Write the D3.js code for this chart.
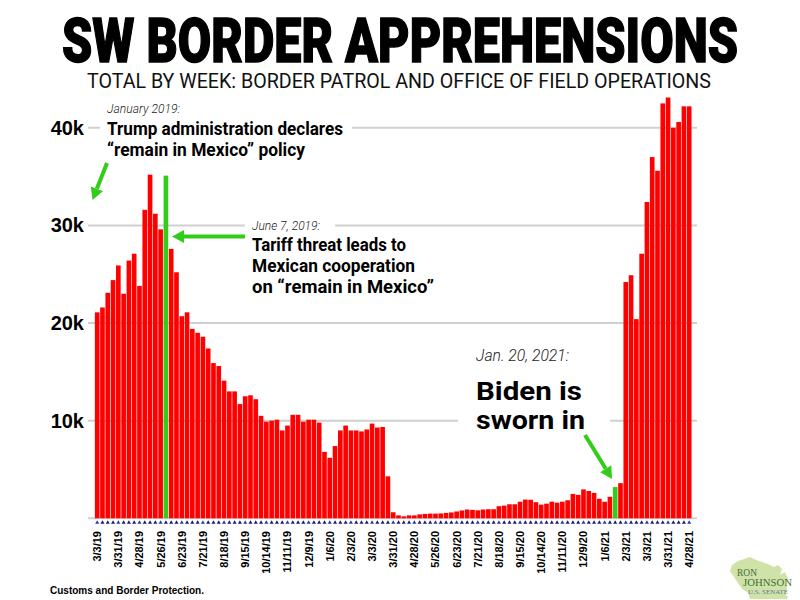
<!DOCTYPE html>
<html><head><meta charset="utf-8">
<script src="https://cdn.jsdelivr.net/npm/d3@7"></script>
<style>body{margin:0;background:#fff}</style>
</head><body>
<svg id="chart" width="800" height="600"></svg>
<script>
// Weekly SW border apprehensions (thousands), week of 3/3/19 through 4/28/21
const weeklyApprehensions = [
  21.1, 21.6, 23.1, 24.4, 25.9, 23.0, 26.4, 27.1, 23.8, 31.6, 35.2, 31.2, 29.6, 35.1, 27.6, 25.2,
  20.7, 21.1, 19.4, 19.0, 18.6, 17.4, 15.9, 15.6, 14.1, 13.0, 13.0, 11.7, 12.5, 12.6, 12.2, 10.5,
  9.9, 10.0, 10.1, 9.0, 9.5, 10.6, 10.6, 9.9, 10.1, 10.1, 9.8, 6.8, 6.2, 7.4, 9.0, 9.5,
  9.0, 9.0, 8.9, 9.1, 9.7, 9.3, 9.35, 4.3, 0.62, 0.3, 0.2, 0.3, 0.3, 0.4, 0.45, 0.48,
  0.48, 0.5, 0.55, 0.6, 0.7, 0.8, 0.9, 0.86, 0.82, 0.9, 0.93, 0.93, 1.24, 1.3, 1.44, 1.44,
  1.7, 1.92, 1.9, 1.65, 1.4, 1.5, 1.7, 1.6, 1.7, 1.85, 2.5, 2.4, 2.96, 2.8, 2.6, 2.0,
  1.7, 2.2, 3.2, 3.6, 24.2, 24.9, 20.4, 27.1, 32.4, 37.0, 35.6, 42.5, 43.1, 40.0, 40.6, 42.2,
  42.2
];
const highlightWeeks = [13, 98];
const tickLabels = ["3/3/19","3/31/19","4/28/19","5/26/19","6/23/19","7/21/19","8/18/19","9/15/19",
  "10/14/19","11/11/19","12/9/19","1/6/20","2/3/20","3/3/20","3/31/20","4/28/20","5/26/20","6/23/20",
  "7/21/20","8/18/20","9/15/20","10/14/20","11/11/20","12/9/20","1/6/21","2/3/21","3/3/21","3/31/21","4/28/21"];
const tickEvery = 4;
const yTickValues = [0, 10, 20, 30, 40];

const svg = d3.select("#chart");
const RED = "#ff0000", GREEN = "#33cc1a";

const x = d3.scaleBand().domain(d3.range(weeklyApprehensions.length))
  .range([94.6, 691.8]).paddingInner(0.12).paddingOuter(0.05);
const y = d3.scaleLinear().domain([0, 40]).range([518.3, 127.8]);

// Title
svg.append("text").attr("x", 400).attr("y", 62).attr("text-anchor", "middle")
  .attr("font-family", "Roboto, 'Liberation Sans', sans-serif").attr("font-weight", 900)
  .attr("font-size", 62).attr("textLength", 676).attr("lengthAdjust", "spacingAndGlyphs")
  .attr("fill", "#000").attr("stroke", "#000").attr("stroke-width", 1.4)
  .text("SW BORDER APPREHENSIONS");
svg.append("text").attr("x", 399).attr("y", 88).attr("text-anchor", "middle")
  .attr("font-family", "Roboto, 'Liberation Sans', sans-serif").attr("font-weight", 400)
  .attr("font-size", 20.5).attr("textLength", 624).attr("lengthAdjust", "spacingAndGlyphs")
  .attr("fill", "#111").text("TOTAL BY WEEK: BORDER PATROL AND OFFICE OF FIELD OPERATIONS");

// Gridlines
const grid = svg.append("g");
grid.selectAll("line").data(yTickValues).join("line")
  .attr("x1", 88).attr("x2", 697).attr("y1", d => y(d)).attr("y2", d => y(d))
  .attr("stroke", "#d0d0d0").attr("stroke-width", 2);

// Y labels
svg.append("g").selectAll("text").data(yTickValues.filter(d => d > 0)).join("text")
  .attr("x", 84).attr("y", d => y(d) + 7).attr("text-anchor", "end")
  .attr("font-family", "'Liberation Sans', Arial, sans-serif").attr("font-weight", 700)
  .attr("font-size", 20).attr("fill", "#000").text(d => d + "k");

const boxLayer = svg.append("g");

// Bars
svg.append("g").selectAll("rect").data(weeklyApprehensions).join("rect")
  .attr("x", (d, i) => x(i)).attr("width", x.bandwidth())
  .attr("y", d => y(d)).attr("height", d => y(0) - y(d))
  .attr("fill", (d, i) => highlightWeeks.includes(i) ? GREEN : RED);

// Axis tick markers (small triangles)
const tri = d3.symbol().type(d3.symbolTriangle).size(7);
svg.append("g").selectAll("path").data(weeklyApprehensions).join("path")
  .attr("d", tri).attr("transform", (d, i) => `translate(${x(i) + x.bandwidth() / 2},522.5)`)
  .attr("fill", (d, i) => i % tickEvery === 0 ? "#2a3aa8" : "#1c1c70");

// X labels
svg.append("g").selectAll("text").data(tickLabels).join("text")
  .attr("transform", (d, k) => `translate(${x(k * tickEvery) + x.bandwidth() / 2 + 4},531) rotate(-90)`)
  .attr("text-anchor", "end")
  .attr("font-family", "'Liberation Sans', Arial, sans-serif").attr("font-weight", 700)
  .attr("font-size", 11).attr("fill", "#000").text(d => d);

// Annotations
const ann = svg.append("g");
function line(txt, xx, yy, opts) {
  const t = ann.append("text").attr("x", xx).attr("y", yy)
    .attr("font-family", "Roboto, 'Liberation Sans', sans-serif")
    .attr("font-size", opts.size).attr("font-weight", opts.weight || 400)
    .attr("font-style", opts.italic ? "italic" : "normal").attr("fill", opts.color || "#000")
    .text(txt);
  if (opts.len) t.attr("textLength", opts.len).attr("lengthAdjust", "spacingAndGlyphs");
  return t;
}
function box(t, padL, padR) {
  const b = t.node().getBBox();
  boxLayer.append("rect").attr("x", b.x - padL).attr("y", b.y)
    .attr("width", b.width + padL + padR).attr("height", b.height).attr("fill", "#fff");
}
const ital = { size: 13.5, italic: true, weight: 300, color: "#222" };
line("January 2019:", 107, 113, { ...ital, len: 73 });
box(line("Trump administration declares", 107, 135, { size: 18.5, weight: 700, len: 236 }), 7, 9);
line("\u201cremain in Mexico\u201d policy", 107, 156, { size: 18.5, weight: 700, len: 198 });

box(line("June 7, 2019:", 252, 230, { ...ital, len: 68 }), 7, 15);
line("Tariff threat leads to", 252, 251, { size: 18.5, weight: 700, len: 154 });
line("Mexican cooperation", 252, 272, { size: 18.5, weight: 700, len: 163 });
line("on \u201cremain in Mexico\u201d", 252, 293, { size: 18.5, weight: 700, len: 182 });

line("Jan. 20, 2021:", 476, 361, { size: 16, italic: true, weight: 300, color: "#222", len: 93 });
line("Biden is", 476, 400, { size: 26.5, weight: 700, len: 106 });
box(line("sworn in", 476, 429, { size: 26.5, weight: 700, len: 109 }), 18, 25);

// Arrows
function arrow(x1, y1, x2, y2) {
  const a = Math.atan2(y2 - y1, x2 - x1), L = 12, W = 6.5;
  const bx = x2 - L * Math.cos(a), by = y2 - L * Math.sin(a);
  ann.append("line").attr("x1", x1).attr("y1", y1).attr("x2", bx).attr("y2", by)
    .attr("stroke", GREEN).attr("stroke-width", 4);
  const px = -Math.sin(a) * W, py = Math.cos(a) * W;
  ann.append("path").attr("d", `M${x2},${y2}L${bx + px},${by + py}L${bx - px},${by - py}Z`).attr("fill", GREEN);
}
arrow(107, 163, 92.5, 200);
arrow(245, 236.5, 172, 236.5);
arrow(585, 435, 612, 479);

// Source
svg.append("text").attr("x", 50).attr("y", 594)
  .attr("font-family", "'Liberation Sans', Arial, sans-serif").attr("font-weight", 700)
  .attr("font-size", 11).attr("textLength", 154).attr("lengthAdjust", "spacingAndGlyphs")
  .text("Customs and Border Protection.");

// Logo
const logo = svg.append("g").attr("transform", "translate(730,555)");
logo.append("path").attr("d",
  "M2,10 L8,6 L14,4 L20,2 L26,5 L32,7 L38,9 L44,12 L48,10 L52,14 L50,20 L55,17 L58,24 L57,32 L56,40 L58,42 L57,44 L20,44 L18,38 L12,34 L8,28 L4,22 L0,16 Z")
  .attr("fill", "#cfe2a8");
const serif = "'Liberation Serif', 'DejaVu Serif', serif";
logo.append("text").attr("x", 7).attr("y", 21).attr("font-family", serif).attr("font-size", 9.5)
  .attr("textLength", 20).attr("lengthAdjust", "spacingAndGlyphs").attr("fill", "#3f6f3a").text("RON");
logo.append("text").attr("x", 13).attr("y", 31).attr("font-family", serif).attr("font-size", 9.5)
  .attr("textLength", 49).attr("lengthAdjust", "spacingAndGlyphs").attr("fill", "#3f6f3a").text("JOHNSON");
logo.append("text").attr("x", 18).attr("y", 39).attr("font-family", serif).attr("font-size", 6)
  .attr("textLength", 40).attr("lengthAdjust", "spacingAndGlyphs").attr("fill", "#5a7a90").text("U.S. SENATE");
</script>
</body></html>
